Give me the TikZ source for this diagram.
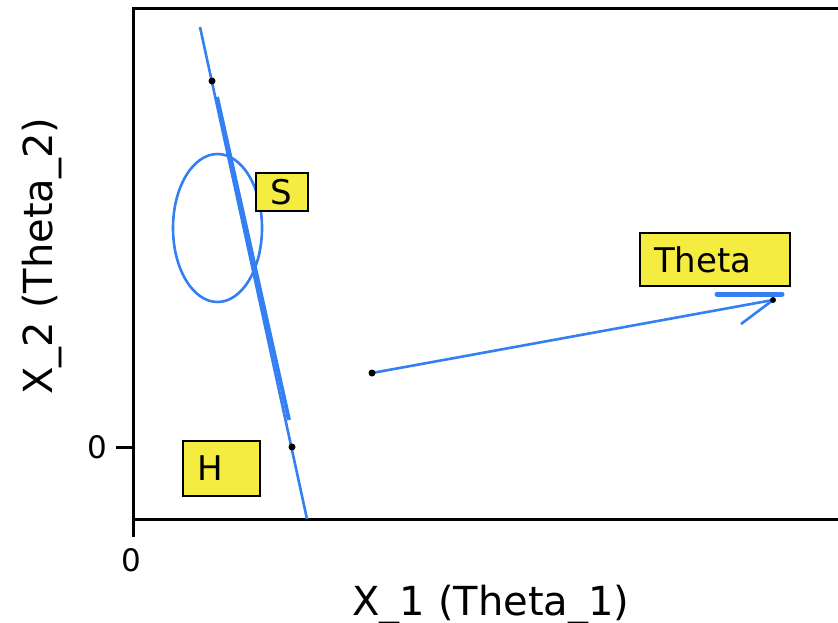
\documentclass[tikz,border=0pt]{standalone}
\usepackage{fontspec}
\setmainfont{DejaVu Sans}
\definecolor{lineblue}{RGB}{52,128,242}
\definecolor{boxyellow}{RGB}{245,236,66}
\tikzset{
 axisline/.style={line width=3pt, black},
 blueline/.style={lineblue, line width=2.6pt},
 dot/.style={circle, fill=black, inner sep=0pt, minimum size=7pt},
 labelbox/.style={draw=black, line width=2.6pt, fill=boxyellow, inner xsep=14pt, inner ysep=0pt, align=left, font=\fontsize{34}{37}\selectfont},
 ticklabel/.style={font=\fontsize{31}{33}\selectfont},
 axislabel/.style={font=\fontsize{40}{44}\selectfont}
}
\begin{document}
\begin{tikzpicture}[x=1pt,y=-1pt]
\useasboundingbox (0,0) rectangle (838,623);
% frame
\draw[axisline] (838,9) -- (133,9) -- (133,537);
\draw[axisline] (133,519) -- (838,519);
\draw[axisline] (116,447) -- (133,447);
\node[ticklabel] (t0y) at (97,447) {0};
\node[ticklabel] (t0x) at (131,560) {0};
% axis labels
\node[axislabel, anchor=base] (xl) at (491,615) {X\_1 (Theta\_1)};
\node[axislabel, rotate=90, anchor=base] (yl) at (52,256) {X\_2 (Theta\_2)};
% points
\coordinate (p1) at (212,81);
\coordinate (p2) at (292,447);
\coordinate (a) at (372,373);
\coordinate (b) at (773,300);
\coordinate (ltop) at (200,27);
\coordinate (lbot) at (307,519);
\coordinate (mtop) at (217,97);
\coordinate (mbot) at (289,420);
\coordinate (barb) at (741,324);
\coordinate (hs) at (717,294);
\coordinate (he) at (782,294);
% lines
\draw[blueline] (ltop) -- (lbot);
\draw[lineblue, line width=4pt] (mtop) -- (mbot);
\draw[blueline] (217.5,228) ellipse [x radius=44.5, y radius=74];
\draw[blueline] (a) -- (b);
\draw[blueline] (b) -- (barb);
\draw[lineblue, line width=5pt, line cap=round] (hs) -- (he);
% dots
\node[dot] (d1) at (p1) {};
\node[dot] (d2) at (p2) {};
\node[dot] (d3) at (a) {};
\node[dot, minimum size=6pt] (d4) at (b) {};
% label boxes
\node[labelbox, minimum width=150pt, text width=122pt, minimum height=53pt] (theta) at (715,259.5) {Theta};
\node[labelbox, minimum width=52pt, text width=24pt, minimum height=38pt] (s) at (282,192) {S};
\node[labelbox, minimum width=77pt, text width=49pt, minimum height=55pt] (h) at (221.5,468.5) {H};
\end{tikzpicture}
\end{document}
